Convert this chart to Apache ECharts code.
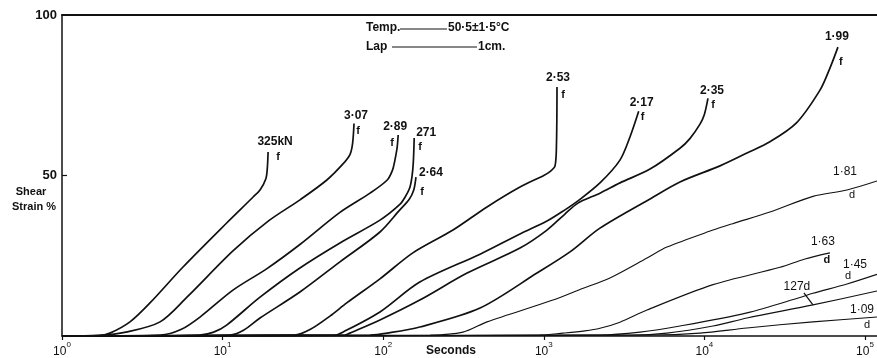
<!DOCTYPE html>
<html><head><meta charset="utf-8">
<script src="https://cdn.jsdelivr.net/npm/echarts@6/dist/echarts.min.js"></script>
<style>html,body{margin:0;padding:0;background:#fff}#c{width:877px;height:358px}</style>
</head><body><div id="c"></div>
<script>
// ---- data (time in seconds, shear strain in %) ----
const xTicks = [1, 10, 100, 1000, 10000, 100000];
const yTicks = [50, 100];
const c325 = [[1,0],[1.7,0.1],[1.99,0.9],[2.65,4.4],[3.53,10.3],[5.67,21.5],[10.6,35.2],[15.5,43.3],[17.1,45.5],[18.6,49],[19.0,52.5],[19.2,57.3]];
const c307 = [[1,0],[1.7,0.2],[2.5,1.2],[4.08,4.4],[6.0,12.1],[11.6,26.5],[19.5,36],[30.5,42.5],[44.6,48.6],[56.2,53.6],[62.1,56.5],[64.5,60],[65.8,66.2]];
const c289 = [[1,0],[4.1,0.3],[5.5,2.0],[7.23,5.9],[11.6,14.3],[18.9,21.0],[30.3,28.5],[53.8,38.5],[82.8,44.5],[106,48.6],[114,51.5],[118,54.5],[122,58.5],[124,62.6]];
const c271 = [[1,0],[7.2,0.3],[8.8,1.2],[10.6,3.4],[17.1,12.1],[30.3,21.2],[53.8,29],[95.5,36.1],[127,41],[137,43.3],[146,46],[151,49.5],[154,54],[156,61.7]];
const c264 = [[1,0],[11.1,0.3],[13.5,1.8],[17.1,5.6],[30.3,13.7],[53.8,23.1],[95.5,32.4],[127,39.3],[145,42.5],[155,45.5],[160,49.5]];
const c253 = [[1,0],[28,0.3],[35,2],[46.6,6.2],[59.3,10.3],[95.5,17.8],[153,25.9],[272,33],[443,40.2],[711,46.4],[1000,50],[1093,51.2],[1175,53],[1200,60],[1209,77.6]];
const c217 = [[1,0],[50,0.3],[56,1.2],[95.5,7.5],[169,16.8],[401,25.5],[711,31.8],[1047,35.8],[1355,39.3],[1633,42.1],[2238,47.7],[2981,54.8],[3441,62],[3900,70]];
const c235 = [[1,0],[58,0.3],[62,0.9],[95.5,5],[169,11.2],[333,19.6],[711,27.4],[1047,33],[1355,38],[1633,41.4],[2238,44.5],[2981,47.7],[4586,52],[7047,58.5],[8128,61.5],[9393,66],[10000,69],[10530,74]];
const c199 = [[1,0],[83,0.3],[106,0.9],[169,2.8],[401,8.7],[907,19.6],[1456,26.2],[2238,33.6],[4586,42.7],[7047,48],[12510,53],[18420,57],[25590,60.5],[37450,66.4],[52480,76.6],[60000,83],[67880,90]];
const c181 = [[1,0],[196,0.3],[314,1.2],[443,4.4],[1141,11.2],[1680,14.5],[2583,18.1],[4395,24.3],[5848,27.7],[11320,33],[15000,35],[25590,38.6],[47430,43.5],[77270,45.5],[118800,48.3]];
const c163 = [[1,0],[947,0.3],[1317,0.9],[1800,1.6],[2238,2.4],[2981,4.3],[4395,8.1],[11320,16.0],[29580,21.4],[42310,24],[60520,25.9]];
const c145 = [[1,0],[2238,0.3],[3972,1.2],[7047,3.1],[18420,7.2],[39380,12.0],[47430,13.3],[77270,16.2],[118800,19.2]];
const c127 = [[1,0],[3441,0.3],[5848,0.9],[11320,3.1],[18420,5.6],[47430,9.7],[118800,14]];
const c109 = [[1,0],[4586,0.3],[9393,0.9],[18420,2.5],[47430,4.4],[118800,5.9]];

const curves = [c325, c307, c289, c271, c264, c253, c217, c235, c199, c181, c163, c145, c127, c109];
const curveNames = ['3.25kN','3.07','2.89','2.71','2.64','2.53','2.17','2.35','1.99','1.81','1.63','1.45','1.27','1.09'];

// ---- presentation ----
const FONT = '"Liberation Sans", Arial, Helvetica, sans-serif';
const thin = [false,false,false,false,false,false,false,false,false,true,true,true,true,true];
// annotation texts anchored at a curve point (pixel offsets)
const notes = [
  {i:0, items:[['325kN',7,-10,1],['f',10,5,1]]},
  {i:1, items:[['3·07',2,-8,1],['f',4,7,1]]},
  {i:2, items:[['2·89',-3,-8,1],['f',-6,8,1]]},
  {i:3, items:[['271',12,-5,1],['f',6,9,1]]},
  {i:4, items:[['2·64',15,-4,1],['f',6,15,1]]},
  {i:5, items:[['2·53',1,-9,1],['f',6,8,1]]},
  {i:6, items:[['2·17',3,-9,1],['f',4,6,1]]},
  {i:7, items:[['2·35',4,-8,1],['f',5,7,1]]},
  {i:8, items:[['1·99',-1,-10,1],['f',3,15,1]]},
  {i:9, items:[['1·81',-32,-9,0],['d',-25,14,0]]},
  {i:10, items:[['1·63',-7,-11,0],['d',-3,7,1]]},
  {i:11, items:[['1·45',-22,-10,0],['d',-29,2,0]]},
  {i:12, idx:5, items:[['127d',-16,-18,0]], leader:[-9,-12]},
  {i:13, items:[['1·09',-15,-7,0],['d',-10,8,0]]}
];

const chart = echarts.init(document.getElementById('c'), null, {renderer:'canvas'});
const option = {
  animation: false,
  backgroundColor: '#fff',
  grid: {left: 62, right: 0, top: 15, bottom: 22},
  xAxis: [{
    type: 'log', logBase: 10, min: 1, max: 118850,
    axisLine: {show: true, lineStyle: {color: '#111', width: 1.5}},
    axisTick: {show: true, customValues: xTicks, length: 4, lineStyle: {color: '#111', width: 1.2}},
    axisLabel: {
      customValues: xTicks, margin: 5, color: '#111',
      formatter: v => '{b|10}{s|' + Math.round(Math.log10(v)) + '}',
      rich: {
        b: {fontSize: 12, fontFamily: FONT, color: '#111', padding: [5, 0, 0, 0]},
        s: {fontSize: 8, fontFamily: FONT, color: '#111', verticalAlign: 'top'}
      }
    },
    splitLine: {show: false}
  }, {
    type: 'log', logBase: 10, min: 1, max: 118850, position: 'top',
    axisLine: {show: true, lineStyle: {color: '#111', width: 2}},
    axisTick: {show: false}, axisLabel: {show: false}, splitLine: {show: false}
  }],
  yAxis: {
    type: 'value', min: 0, max: 100,
    axisLine: {show: true, lineStyle: {color: '#111', width: 1.5}},
    axisTick: {show: true, inside: true, customValues: [50], length: 5, lineStyle: {color: '#111', width: 1.2}},
    axisLabel: {customValues: yTicks, margin: 5, fontWeight: 'bold', fontSize: 13, color: '#111', fontFamily: FONT},
    splitLine: {show: false}
  },
  series: curves.map((d, k) => ({
    name: curveNames[k], type: 'line', data: d, xAxisIndex: 0, yAxisIndex: 0,
    showSymbol: false, symbol: 'none', smooth: 0.3, silent: true,
    lineStyle: {color: '#111', width: thin[k] ? 1.1 : 1.7}
  }))
};
chart.setOption(option);

function txt(x, y, t, bold, size, align) {
  return {type: 'text', x: x, y: y, silent: true,
    style: {text: t, fill: '#111', fontFamily: FONT, fontSize: size || 12, fontWeight: bold ? 'bold' : 'normal',
      align: align || 'center', verticalAlign: 'middle'}};
}
const g = [];
notes.forEach(n => {
  const d = curves[n.i];
  const p = d[n.idx === undefined ? d.length - 1 : n.idx];
  const [px, py] = chart.convertToPixel({xAxisIndex: 0, yAxisIndex: 0}, p);
  n.items.forEach(it => g.push(txt(px + it[1], py + it[2], it[0], it[3], it[0].length === 1 ? 11 : 12)));
  if (n.leader) g.push({type: 'line', silent: true, shape: {x1: px + n.leader[0], y1: py + n.leader[1], x2: px, y2: py}, style: {stroke: '#111', lineWidth: 1.2}});
});
// static texts: header, axis titles
g.push(txt(366, 28, 'Temp.', 1, 12, 'left'));
g.push({type: 'line', silent: true, shape: {x1: 400, y1: 29, x2: 447, y2: 29}, style: {stroke: '#111', lineWidth: 1}});
g.push(txt(448, 28, '50·5±1·5°C', 1, 12, 'left'));
g.push(txt(366, 47, 'Lap', 1, 12, 'left'));
g.push({type: 'line', silent: true, shape: {x1: 392, y1: 47, x2: 477, y2: 47}, style: {stroke: '#111', lineWidth: 1}});
g.push(txt(478, 47, '1cm.', 1, 12, 'left'));
g.push(txt(31, 192, 'Shear', 1, 11));
g.push(txt(34, 207, 'Strain %', 1, 11));
g.push(txt(451, 351, 'Seconds', 1, 12));
chart.setOption({graphic: g});
</script>
</body></html>
